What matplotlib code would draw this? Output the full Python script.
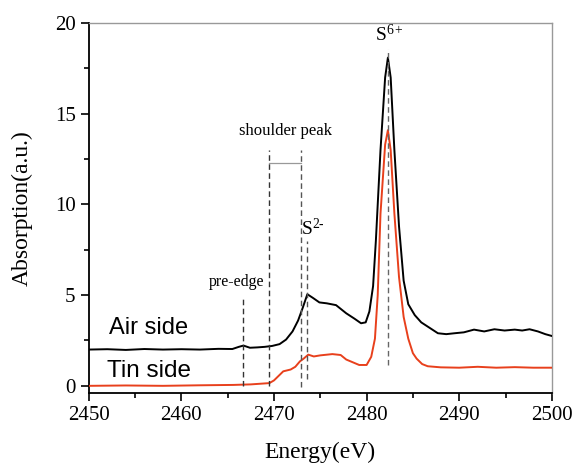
import matplotlib

matplotlib.use("Agg")

import matplotlib.pyplot as plt
from matplotlib.ticker import MultipleLocator

SERIF = "Liberation Serif"
SANS = "Liberation Sans"
RED = "#E8401C"

plt.rcParams["mathtext.fontset"] = "custom"
plt.rcParams["mathtext.rm"] = SERIF
plt.rcParams["mathtext.it"] = SERIF + ":italic"

# Air side spectrum (energy in eV, absorption in a.u.)
air_energy = [2450, 2452, 2454, 2456, 2458, 2460, 2462, 2464, 2465.5, 2466.2, 2466.7,
              2467.4, 2468.2, 2469.0, 2469.8, 2470.6, 2471.3, 2472.0, 2472.6, 2473.1,
              2473.6, 2474.2, 2474.9, 2475.7, 2476.7, 2477.8, 2478.7, 2479.4, 2479.9,
              2480.3, 2480.7, 2481.0, 2481.5, 2482.0, 2482.3, 2482.6, 2483.0, 2483.5,
              2484.0, 2484.5, 2485.2, 2485.9, 2486.8, 2487.7, 2488.6, 2489.5, 2490.5,
              2491.6, 2492.7, 2493.8, 2494.9, 2496.0, 2496.8, 2497.6, 2498.5, 2499.3, 2500]
air_value = [2.0, 2.02, 1.98, 2.03, 2.0, 2.02, 2.0, 2.04, 2.03, 2.15, 2.22,
             2.1, 2.12, 2.15, 2.2, 2.3, 2.55, 3.0, 3.6, 4.3,
             5.05, 4.85, 4.6, 4.55, 4.45, 4.0, 3.7, 3.45, 3.5,
             4.1, 5.5, 8.0, 13.0, 17.0, 18.1, 17.0, 13.0, 8.8,
             5.8, 4.5, 3.9, 3.5, 3.2, 2.9, 2.85, 2.9, 2.95,
             3.1, 3.0, 3.12, 3.05, 3.1, 3.05, 3.12, 3.0, 2.85, 2.75]

# Tin side spectrum
tin_energy = [2450, 2454, 2458, 2462, 2465.6, 2467.5, 2469.5, 2470.0, 2470.5, 2471.0,
              2471.8, 2472.3, 2472.8, 2473.2, 2473.7, 2474.3, 2475.0, 2476.3, 2477.2,
              2477.8, 2478.5, 2479.2, 2480.0, 2480.5, 2480.9, 2481.2, 2481.5, 2482.0,
              2482.3, 2482.6, 2483.0, 2483.5, 2484.0, 2484.5, 2485.0, 2485.4, 2486.0,
              2486.6, 2488, 2490, 2492, 2494, 2496, 2498, 2500]
tin_value = [0.0, 0.02, 0.0, 0.03, 0.05, 0.08, 0.15, 0.3, 0.55, 0.8,
             0.9, 1.05, 1.35, 1.5, 1.72, 1.62, 1.68, 1.75, 1.7,
             1.45, 1.3, 1.15, 1.15, 1.6, 2.6, 5.0, 9.5, 13.3,
             14.1, 13.0, 9.5, 6.0, 3.8, 2.6, 1.8, 1.5, 1.2,
             1.08, 1.02, 1.0, 1.05, 1.0, 1.03, 1.0, 1.0]

# Dashed marker lines: (energy, y bottom, y top)
marker_energy = [2466.7, 2469.5, 2472.9, 2473.6, 2482.3]
marker_bottom = [0.0, 0.0, -0.05, 0.4, 1.15]
marker_top = [4.9, 13.0, 13.0, 8.0, 18.6]
marker_color = ["#333333", "#333333", "#555555", "#555555", "#666666"]

shoulder_span = [2469.5, 2472.9]
shoulder_level = 12.3

fig = plt.figure(figsize=(5.73, 4.63), dpi=100, facecolor="white")
ax = fig.add_axes([0.155, 0.151, 0.808, 0.799])

ax.plot(air_energy, air_value, color="black", linewidth=1.4, zorder=3)
ax.plot(tin_energy, tin_value, color=RED, linewidth=1.4, zorder=3)

for x, y0, y1, c in zip(marker_energy, marker_bottom, marker_top, marker_color):
    ax.plot([x, x], [y0, y1], color=c, linestyle=(0, (4, 2.5)), linewidth=1.0, zorder=4)

ax.plot(shoulder_span, [shoulder_level, shoulder_level], color="#999999", linewidth=0.9, zorder=4)

ax.text(2471.2, 13.6, "shoulder peak", fontsize=12, family=SERIF, ha="center", va="bottom")
ax.text(2466.0, 5.3, "pre-edge", fontsize=11.5, family=SERIF, ha="center", va="bottom")
ax.text(2474.2, 8.1, r"S$^{2\text{-}}$", fontsize=14, family=SERIF, ha="center", va="bottom")
ax.text(2482.5, 18.8, "S$^{6+}$", fontsize=14, family=SERIF, ha="center", va="bottom")
ax.text(2452.2, 3.2, "Air side", fontsize=17, family=SANS, ha="left", va="center")
ax.text(2452.0, 0.83, "Tin side", fontsize=17.5, family=SANS, ha="left", va="center")

ax.set_xlim(2450, 2500)
ax.set_ylim(-0.4, 20)
ax.xaxis.set_major_locator(MultipleLocator(10))
ax.xaxis.set_minor_locator(MultipleLocator(5))
ax.yaxis.set_major_locator(MultipleLocator(5))
ax.yaxis.set_minor_locator(MultipleLocator(2.5))

for side in ["top", "right"]:
    ax.spines[side].set_color("#999999")
    ax.spines[side].set_linewidth(1.0)
for side in ["left", "bottom"]:
    ax.spines[side].set_color("black")
    ax.spines[side].set_linewidth(1.3)

ax.tick_params(which="both", direction="out", top=False, right=False, width=1.2)
ax.tick_params(which="major", length=6, labelsize=15)
ax.tick_params(which="minor", length=3.5)
for lab in ax.get_xticklabels() + ax.get_yticklabels():
    lab.set_fontfamily(SERIF)

ax.set_xlabel("Energy(eV)", fontsize=17, family=SERIF, labelpad=12)
ax.set_ylabel("Absorption(a.u.)", fontsize=17, family=SERIF, labelpad=16)

fig.savefig("out.png", dpi=100)
plt.close(fig)
